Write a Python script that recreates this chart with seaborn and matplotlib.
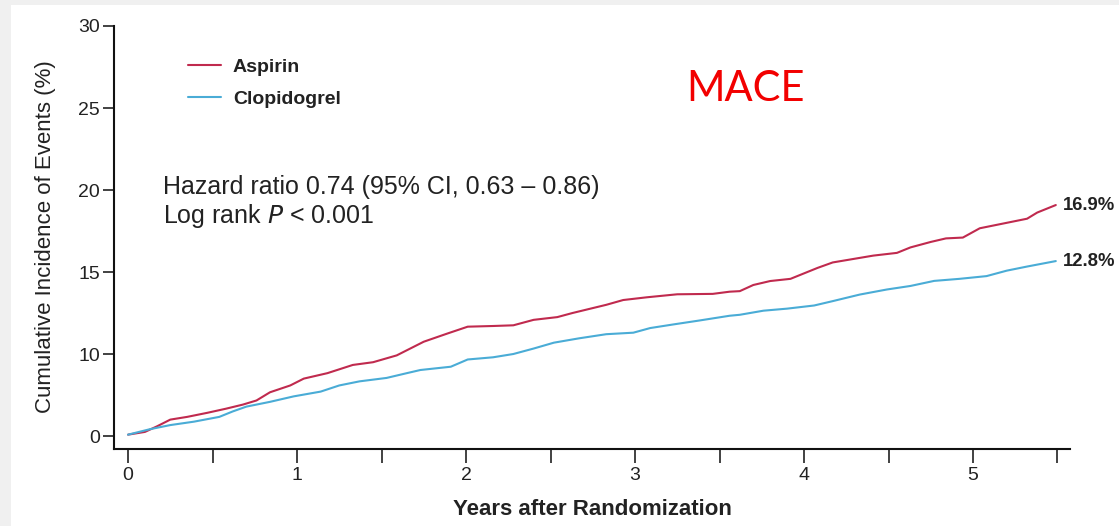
import matplotlib
matplotlib.use("Agg")
import matplotlib.pyplot as plt
import matplotlib.patches as mpatches
import numpy as np
import pandas as pd
import seaborn as sns

# Cumulative incidence of MACE (%) by years after randomization
aspirin_years = [0.0, 0.10, 0.17, 0.25, 0.35, 0.47, 0.58, 0.68, 0.76, 0.84, 0.96,
                 1.04, 1.18, 1.33, 1.45, 1.59, 1.75, 1.89, 2.01, 2.16, 2.28, 2.40,
                 2.54, 2.63, 2.73, 2.83, 2.93, 3.07, 3.25, 3.46, 3.56, 3.62, 3.70,
                 3.80, 3.92, 4.00, 4.08, 4.17, 4.29, 4.41, 4.55, 4.63, 4.75, 4.84,
                 4.94, 5.04, 5.14, 5.24, 5.32, 5.38, 5.49]
aspirin_pct = [0.1, 0.3, 0.7, 1.2, 1.4, 1.7, 2.0, 2.3, 2.6, 3.2, 3.7,
               4.2, 4.6, 5.2, 5.4, 5.9, 6.9, 7.5, 8.0, 8.05, 8.1, 8.5,
               8.7, 9.0, 9.3, 9.6, 9.95, 10.15, 10.37, 10.4, 10.56, 10.6, 11.05,
               11.34, 11.5, 11.9, 12.3, 12.7, 12.95, 13.2, 13.4, 13.8, 14.2, 14.46,
               14.52, 15.2, 15.45, 15.7, 15.9, 16.35, 16.9]

clopidogrel_years = [0.0, 0.13, 0.25, 0.39, 0.54, 0.62, 0.70, 0.84, 0.98, 1.14,
                     1.25, 1.37, 1.53, 1.65, 1.73, 1.91, 2.01, 2.16, 2.28, 2.40,
                     2.52, 2.67, 2.83, 2.99, 3.09, 3.23, 3.38, 3.56, 3.62, 3.76,
                     3.90, 4.06, 4.17, 4.33, 4.49, 4.63, 4.77, 4.92, 5.08, 5.20,
                     5.32, 5.49]
clopidogrel_pct = [0.1, 0.5, 0.8, 1.05, 1.4, 1.8, 2.15, 2.5, 2.9, 3.25,
                   3.7, 4.0, 4.25, 4.6, 4.83, 5.07, 5.6, 5.76, 6.0, 6.4,
                   6.83, 7.15, 7.45, 7.56, 7.9, 8.17, 8.45, 8.8, 8.87, 9.17,
                   9.32, 9.55, 9.87, 10.35, 10.72, 10.98, 11.35, 11.5, 11.7, 12.1,
                   12.4, 12.8]

groups = ["Aspirin", "Clopidogrel"]
end_labels = ["16.9%", "12.8%"]
colors = {"Aspirin": "#c02a4e", "Clopidogrel": "#4aacd6"}

# y tick placement and the labels printed at them
ytick_pos = [0, 6, 12, 18, 24, 30]
ytick_labels = ["0", "10", "15", "20", "25", "30"]

df = pd.concat([
    pd.DataFrame({"Years": aspirin_years, "Incidence": aspirin_pct, "Group": "Aspirin"}),
    pd.DataFrame({"Years": clopidogrel_years, "Incidence": clopidogrel_pct, "Group": "Clopidogrel"}),
], ignore_index=True)

sns.set_theme(style="white")
plt.rcParams["font.family"] = ["Liberation Sans", "DejaVu Sans"]

W, H = 1119, 526
fig = plt.figure(figsize=(W / 100, H / 100), dpi=100, facecolor="white")

# light grey frame strips along the top and left edges
fig.patches.append(mpatches.Rectangle((0, 0), 11 / W, 1, transform=fig.transFigure,
                                      facecolor="#f0f0f0", edgecolor="none", zorder=0))
fig.patches.append(mpatches.Rectangle((0, 1 - 5 / H), 1, 5 / H, transform=fig.transFigure,
                                      facecolor="#f0f0f0", edgecolor="none", zorder=0))

ax = fig.add_axes([114 / W, 77 / H, (1070 - 114) / W, (449 - 26) / H])
ax.set_facecolor("white")

sns.lineplot(data=df, x="Years", y="Incidence", hue="Group", palette=colors,
             linewidth=1.5, ax=ax, legend=False, estimator=None, sort=False)

ax.set_xlim(-0.083, 5.574)
ax.set_ylim(-0.95, 30)

for s in ["top", "right"]:
    ax.spines[s].set_visible(False)
for s in ["left", "bottom"]:
    ax.spines[s].set_color("#111111")
    ax.spines[s].set_linewidth(1.5)

xt = np.arange(0, 5.51, 0.5)
ax.set_yticks(ytick_pos)
ax.set_yticklabels(ytick_labels)
ax.set_xticks(xt)
ax.set_xticklabels([str(int(v)) if float(v).is_integer() else "" for v in xt])
ax.tick_params(axis="y", direction="out", length=8, width=1.3, color="#333333",
               labelsize=14, labelcolor="#222222", pad=2, left=True)
ax.tick_params(axis="x", direction="out", length=10, width=1.3, color="#333333",
               labelsize=14, labelcolor="#222222", pad=3, bottom=True)

ax.set_xlabel("Years after Randomization", fontsize=16, fontweight="bold", color="#222222")
ax.xaxis.label.set_va("center")
ax.xaxis.set_label_coords(0.5, -0.142)
ax.set_ylabel("Cumulative Incidence of Events (%)", fontsize=16, color="#222222")
ax.yaxis.label.set_va("center")
ax.yaxis.set_label_coords(-0.072, 0.501)

# legend
handles = [plt.Line2D([], [], color=colors[g], linewidth=1.5) for g in groups]
leg = ax.legend(handles, groups, loc="upper left", bbox_to_anchor=(0.0775, 0.924),
                frameon=False, handlelength=1.7, handletextpad=0.6, labelspacing=0.74,
                borderpad=0, borderaxespad=0, prop={"weight": "bold", "size": 14})
for t in leg.get_texts():
    t.set_color("#222222")

# end-of-curve values
ax.text(5.53, aspirin_pct[-1], end_labels[0], fontsize=13.3, fontweight="bold",
        color="#222222", va="center", ha="left", clip_on=False)
ax.text(5.53, clopidogrel_pct[-1], end_labels[1], fontsize=13.3, fontweight="bold",
        color="#222222", va="center", ha="left", clip_on=False)

# statistics annotation
ax.text(0.051, 0.582, "Hazard ratio 0.74 (95% CI, 0.63 \u2013 0.86)\nLog rank $\\it{P}$ < 0.001",
        transform=ax.transAxes, fontsize=18, color="#222222", va="center", ha="left",
        linespacing=1.15)

fig.text(746 / W, 1 - 89 / H, "MACE", fontsize=30, color="#f20000",
         family=["Lato", "DejaVu Sans"], ha="center", va="center")

fig.savefig("out.png", dpi=100, facecolor=fig.get_facecolor())
